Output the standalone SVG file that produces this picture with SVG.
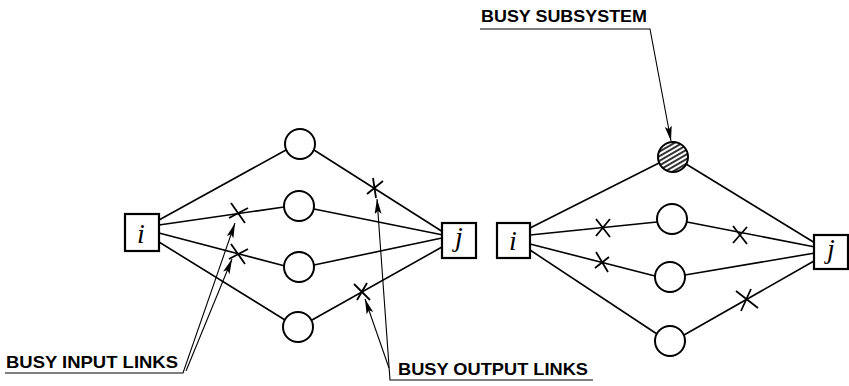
<svg xmlns="http://www.w3.org/2000/svg" width="849" height="386" viewBox="0 0 849 386">
<style>
.box{fill:#fff;stroke:#000;stroke-width:2.2}
.node{fill:#fff;stroke:#000;stroke-width:2}
.edge{fill:none;stroke:#000;stroke-width:1.6}
.cross{fill:none;stroke:#000;stroke-width:1.8}
.lead{fill:none;stroke:#000;stroke-width:1.1}
.lbl{font-family:"Liberation Sans",Arial,sans-serif;font-weight:bold;font-size:17px;fill:#000}
.letter{font-family:"Liberation Serif","Times New Roman",serif;font-style:italic;font-size:28px;fill:#000;text-anchor:middle}
</style>
<defs>
<marker id="arr" markerUnits="userSpaceOnUse" markerWidth="16" markerHeight="8" refX="15" refY="3.5" orient="auto">
<path d="M0,0 L15,3.5 L0,7 L3,3.5 z" fill="#000"/>
</marker>
<pattern id="hatch" patternUnits="userSpaceOnUse" width="4" height="4" patternTransform="rotate(-30)">
<line x1="0" y1="1" x2="4" y2="1" stroke="#000" stroke-width="1.6"/>
</pattern>
</defs>

<g id="connectors">
<!-- left diagram -->
<path class="edge" d="M159,220 L286,150"/>
<path class="edge" d="M159,225 L284,207"/>
<path class="edge" d="M159,233 L285,266"/>
<path class="edge" d="M159,242 L285,320"/>
<path class="edge" d="M314,150 L443,232"/>
<path class="edge" d="M314,209 L443,235"/>
<path class="edge" d="M314,265 L442,238"/>
<path class="edge" d="M312,320 L442,247"/>
<!-- right diagram -->
<path class="edge" d="M530,228 L659,163"/>
<path class="edge" d="M530,235 L657,222"/>
<path class="edge" d="M530,244 L655,276"/>
<path class="edge" d="M530,250 L657,334"/>
<path class="edge" d="M686,164 L815,243"/>
<path class="edge" d="M687,222 L815,247"/>
<path class="edge" d="M685,275 L815,253"/>
<path class="edge" d="M684,335 L814,261"/>
</g>

<g id="crosses">
<path class="cross" d="M231,203 L245,223 M229,218 L248,208"/>
<path class="cross" d="M231,244 L245,264 M229,259 L248,249"/>
<path class="cross" d="M367,194 L383,181 M373,178 L376,198"/>
<path class="cross" d="M354,284 L370,300 M357,300 L367,283"/>
<path class="cross" d="M596,219 L610,237 M596,236 L610,219"/>
<path class="cross" d="M596,252 L608,272 M595,268 L609,257"/>
<path class="cross" d="M733,226 L747,244 M733,243 L747,227"/>
<path class="cross" d="M736,291 L758,308 M741,311 L751,289"/>
</g>

<g id="nodeLeftI">
<rect class="box" x="125" y="214" width="34" height="37"/>
<text class="letter" x="141" y="243">i</text>
</g>
<g id="nodeLeftJ">
<rect class="box" x="442" y="223" width="34" height="35"/>
<text class="letter" x="459" y="246">j</text>
</g>
<g id="nodeL1"><circle class="node" cx="300" cy="144" r="15"/></g>
<g id="nodeL2"><circle class="node" cx="299" cy="206" r="15"/></g>
<g id="nodeL3"><circle class="node" cx="299" cy="267" r="15"/></g>
<g id="nodeL4"><circle class="node" cx="298" cy="327" r="15"/></g>

<g id="nodeRightI">
<rect class="box" x="497" y="223" width="33" height="35"/>
<text class="letter" x="513" y="250">i</text>
</g>
<g id="nodeRightJ">
<rect class="box" x="814" y="235" width="34" height="34"/>
<text class="letter" x="831" y="258">j</text>
</g>
<g id="nodeR1"><circle class="node" cx="673" cy="157" r="15" style="fill:url(#hatch)"/></g>
<g id="nodeR2"><circle class="node" cx="672" cy="219" r="15"/></g>
<g id="nodeR3"><circle class="node" cx="670" cy="277" r="15"/></g>
<g id="nodeR4"><circle class="node" cx="670" cy="341" r="15"/></g>

<g id="labels">
<text class="lbl" x="6" y="368" textLength="172" lengthAdjust="spacingAndGlyphs">BUSY INPUT LINKS</text>
<path class="lead" d="M5,373 H183 L235,223" marker-end="url(#arr)"/>
<path class="lead" d="M186,371 L232,259" marker-end="url(#arr)"/>

<text class="lbl" x="398" y="375" textLength="190" lengthAdjust="spacingAndGlyphs">BUSY  OUTPUT  LINKS</text>
<path class="lead" d="M593,380 H390 L377,199" marker-end="url(#arr)"/>
<path class="lead" d="M389,368 L365,299" marker-end="url(#arr)"/>

<text class="lbl" x="481" y="22" textLength="166" lengthAdjust="spacingAndGlyphs">BUSY  SUBSYSTEM</text>
<path class="lead" d="M480,29 H650 L671,141" marker-end="url(#arr)"/>
</g>
</svg>
